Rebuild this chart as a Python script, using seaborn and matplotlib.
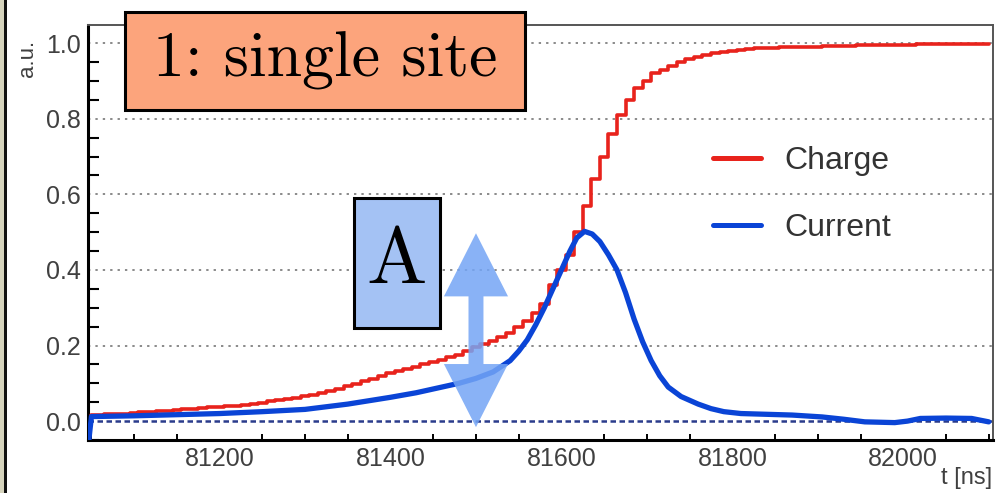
import numpy as np
import pandas as pd
import matplotlib
matplotlib.use("Agg")
import matplotlib.pyplot as plt
import matplotlib.patches as mpatches
from matplotlib.ticker import MultipleLocator
import seaborn as sns

# ---------------- data ----------------
charge_t = list(range(81050, 82101, 10))
charge_v = [
    0.016, 0.017, 0.018, 0.019, 0.020, 0.022, 0.023, 0.025, 0.026, 0.028,
    0.029, 0.031, 0.032, 0.034, 0.036, 0.037, 0.039, 0.041, 0.043, 0.046,
    0.049, 0.052, 0.055, 0.058, 0.062, 0.066, 0.070, 0.075, 0.080, 0.086,
    0.092, 0.098, 0.105, 0.112, 0.119, 0.126, 0.132, 0.138, 0.144, 0.150,
    0.156, 0.162, 0.169, 0.176, 0.185, 0.195, 0.203, 0.212, 0.222, 0.233,
    0.248, 0.265, 0.285, 0.310, 0.360, 0.400, 0.440, 0.500, 0.570, 0.640,
    0.700, 0.760, 0.810, 0.850, 0.880, 0.900, 0.920, 0.930, 0.940, 0.950,
    0.957, 0.963, 0.968, 0.973, 0.977, 0.980, 0.982, 0.984, 0.986, 0.987,
    0.988, 0.989, 0.990, 0.990, 0.991, 0.991, 0.992, 0.992, 0.993, 0.993,
    0.994, 0.994, 0.995, 0.995, 0.996, 0.996, 0.996, 0.997, 0.997, 0.997,
    0.998, 0.998, 0.998, 0.998, 0.999, 0.999,
]
current_t = [81047, 81050, 81100, 81150, 81200, 81250, 81300, 81350, 81400, 81430,
             81460, 81480, 81500, 81520, 81530, 81540, 81550, 81560, 81570, 81580,
             81590, 81600, 81610, 81618, 81627, 81636, 81645, 81655, 81665, 81675,
             81685, 81695, 81705, 81715, 81725, 81740, 81760, 81775, 81790, 81810,
             81840, 81870, 81905, 81930, 81955, 81990, 82005, 82020, 82050, 82080,
             82100]
current_v = [-0.050, 0.012, 0.014, 0.017, 0.020, 0.025, 0.031, 0.045, 0.063, 0.075,
             0.090, 0.100, 0.113, 0.130, 0.145, 0.160, 0.185, 0.215, 0.255, 0.300,
             0.350, 0.400, 0.450, 0.485, 0.502, 0.495, 0.475, 0.440, 0.400, 0.340,
             0.270, 0.210, 0.160, 0.120, 0.090, 0.065, 0.045, 0.033, 0.025, 0.020,
             0.018, 0.016, 0.011, 0.005, -0.002, -0.004, 0.000, 0.007, 0.008, 0.007,
             -0.002]
series_labels = ["Charge", "Current"]
x_ticks = [81200, 81400, 81600, 81800, 82000]
y_ticks = [0.0, 0.2, 0.4, 0.6, 0.8, 1.0]
title_text = "1: single site"
amp_text = "A"
arrow_x = 81500
arrow_y0, arrow_y1 = -0.016, 0.497

# ---------------- style ----------------
sns.set_theme(style="white")
plt.rcParams["font.family"] = ["Liberation Sans", "DejaVu Sans"]

W, H = 999, 493
fig = plt.figure(figsize=(W / 100, H / 100), dpi=100)
ax = fig.add_axes([88 / W, 1 - 440 / H, (993 - 88) / W, (440 - 25) / H])

df_c = pd.DataFrame({"t": charge_t, "v": charge_v})
df_i = pd.DataFrame({"t": current_t, "v": current_v})

ax.axhline(0, color="#2a3c8c", lw=1.8, ls=(0, (2.2, 1.4)), zorder=1)
for yv in y_ticks[1:]:
    ax.axhline(yv, color="#8a8a8a", lw=1.4, ls=(0, (1.2, 2.6)), zorder=1)

sns.lineplot(data=df_c, x="t", y="v", ax=ax, color="#e8231c", lw=2.6,
             drawstyle="steps-mid", label=series_labels[0], zorder=3,
             estimator=None, sort=False)
sns.lineplot(data=df_i, x="t", y="v", ax=ax, color="#0a44d6", lw=3.8,
             label=series_labels[1], zorder=4, estimator=None, sort=False)

ax.set_xlim(81046, 82105)
ax.set_ylim(-0.05, 1.048)
ax.set_xticks(x_ticks)
ax.set_yticks(y_ticks)
ax.set_yticklabels([f"{v:.1f}" for v in y_ticks])
ax.xaxis.set_minor_locator(MultipleLocator(50))
ax.yaxis.set_minor_locator(MultipleLocator(0.05))
ax.tick_params(axis="y", which="major", direction="in", length=18, width=1.6,
               color="black", labelsize=18, labelcolor="#404040", pad=5)
ax.tick_params(axis="y", which="minor", direction="in", length=8, width=1.5,
               color="black", left=True)
ax.tick_params(axis="x", which="major", direction="in", length=9, width=1.6,
               color="black", labelsize=18, labelcolor="#404040", pad=5)
ax.tick_params(axis="x", which="minor", direction="in", length=4.5, width=1.4,
               color="black", bottom=True)
ax.set_xlabel("")
ax.set_ylabel("")
for side in ["left", "bottom"]:
    ax.spines[side].set_color("black")
    ax.spines[side].set_linewidth(2.2)
for side in ["top", "right"]:
    ax.spines[side].set_color("#555555")
    ax.spines[side].set_linewidth(1.4)

leg = ax.legend(loc="upper left", bbox_to_anchor=(713 / W, 1 - 146 / H),
                bbox_transform=fig.transFigure, frameon=False, fontsize=23,
                handlelength=1.5, handletextpad=0.75, labelspacing=1.15,
                borderpad=0, borderaxespad=0)
for txt in leg.get_texts():
    txt.set_color("#333333")
for ln in leg.get_lines():
    ln.set_linewidth(3.6)

# double-headed arrow (amplitude)
shaft_w, head_w, head_l = 17.5, 75.0, 0.167
verts = [
    (arrow_x, arrow_y1),
    (arrow_x + head_w / 2, arrow_y1 - head_l),
    (arrow_x + shaft_w / 2, arrow_y1 - head_l),
    (arrow_x + shaft_w / 2, arrow_y0 + head_l),
    (arrow_x + head_w / 2, arrow_y0 + head_l),
    (arrow_x, arrow_y0),
    (arrow_x - head_w / 2, arrow_y0 + head_l),
    (arrow_x - shaft_w / 2, arrow_y0 + head_l),
    (arrow_x - shaft_w / 2, arrow_y1 - head_l),
    (arrow_x - head_w / 2, arrow_y1 - head_l),
]
ax.add_patch(mpatches.Polygon(verts, closed=True, facecolor="#74a5f5",
                              edgecolor="none", alpha=0.85, zorder=5))

# boxes with serif labels
def box(x0, y0, x1, y1, fc, text, size):
    r = mpatches.Rectangle((x0 / W, 1 - y1 / H), (x1 - x0) / W, (y1 - y0) / H,
                           transform=fig.transFigure, facecolor=fc,
                           edgecolor="black", lw=2.2, zorder=10)
    fig.patches.append(r)
    fig.text((x0 + x1) / 2 / W, 1 - (y0 + y1) / 2 / H, text, family="cmr10",
             fontsize=size, ha="center", va="center", color="black", zorder=11)

box(125, 12, 525, 110, "#fca47c", title_text, 46)
box(354, 198, 440, 328, "#a4c2f4", amp_text, 58)

# axis titles
fig.text(27 / W, 1 - 40 / H, "a.u.", rotation=90, ha="center", va="top",
         fontsize=16, color="#404040")
fig.text(992 / W, 1 - 478 / H, "t [ns]", ha="right", va="center",
         fontsize=17, color="#404040")

# left frame strip
fig.patches.append(mpatches.Rectangle((0, 0), 4 / W, 1, transform=fig.transFigure,
                                      facecolor="#d6d4bd", edgecolor="none"))
fig.patches.append(mpatches.Rectangle((4 / W, 0), 2.5 / W, 1, transform=fig.transFigure,
                                      facecolor="#111111", edgecolor="none"))

fig.savefig("out.png", dpi=100)
